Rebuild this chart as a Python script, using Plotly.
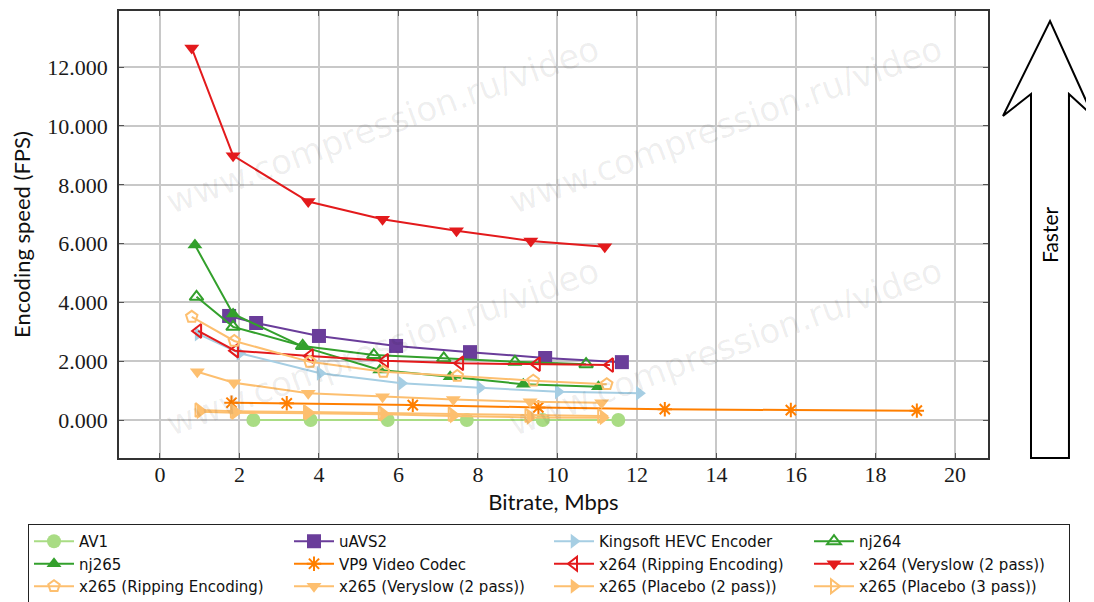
import plotly.graph_objects as go

# ---- data ----
av1_x = [2.35, 3.79, 5.73, 7.72, 9.63, 11.53]
av1_y = [0.00, 0.00, 0.00, 0.00, 0.00, 0.00]

uavs2_x = [1.74, 2.42, 4.00, 5.94, 7.80, 9.69, 11.62]
uavs2_y = [3.54, 3.30, 2.86, 2.52, 2.31, 2.11, 1.97]

kingsoft_x = [0.96, 2.01, 4.03, 6.08, 8.05, 10.02, 12.06]
kingsoft_y = [2.93, 2.27, 1.59, 1.25, 1.10, 0.96, 0.91]

nj264_x = [0.92, 1.84, 3.59, 5.38, 7.14, 8.93, 10.72]
nj264_y = [4.19, 3.17, 2.52, 2.21, 2.10, 1.98, 1.90]

nj265_x = [0.88, 1.84, 3.61, 5.53, 7.30, 9.14, 11.03]
nj265_y = [5.95, 3.61, 2.49, 1.70, 1.47, 1.22, 1.13]

vp9_x = [1.80, 3.19, 6.36, 9.52, 12.70, 15.87, 19.04]
vp9_y = [0.59, 0.57, 0.51, 0.43, 0.37, 0.34, 0.32]

x264rip_x = [0.96, 1.89, 3.77, 5.66, 7.55, 9.48, 11.32]
x264rip_y = [3.03, 2.36, 2.18, 2.02, 1.93, 1.90, 1.87]

x264vs_x = [0.80, 1.84, 3.73, 5.60, 7.46, 9.33, 11.19]
x264vs_y = [12.65, 8.99, 7.43, 6.83, 6.44, 6.09, 5.89]

x265rip_x = [0.80, 1.87, 3.77, 5.62, 7.48, 9.39, 11.24]
x265rip_y = [3.51, 2.69, 1.98, 1.64, 1.50, 1.34, 1.22]

x265vs_x = [0.94, 1.86, 3.73, 5.60, 7.38, 9.31, 11.11]
x265vs_y = [1.64, 1.27, 0.91, 0.79, 0.70, 0.62, 0.59]

x265p2_x = [1.01, 1.89, 3.73, 5.62, 7.38, 9.31, 11.15]
x265p2_y = [0.28, 0.25, 0.23, 0.20, 0.14, 0.09, 0.08]

x265p3_x = [0.97, 1.86, 3.70, 5.58, 7.34, 9.27, 11.10]
x265p3_y = [0.34, 0.30, 0.27, 0.24, 0.20, 0.16, 0.14]

x_ticks = [0, 2, 4, 6, 8, 10, 12, 14, 16, 18, 20]
y_ticks = [0, 2, 4, 6, 8, 10, 12]

# ---- styling ----
W, H = 1094, 602
OFF = 8  # page body margin offset
GREEN_L = "#a9dc84"
PURPLE = "#6a3d9a"
BLUE_L = "#a6cee3"
GREEN = "#33a02c"
ORANGE = "#ff7f00"
RED = "#e31a1c"
ORANGE_L = "#fdbf6f"

series = [
    ("AV1", av1_x, av1_y, GREEN_L, "circle", 14),
    ("uAVS2", uavs2_x, uavs2_y, PURPLE, "square", 14),
    ("Kingsoft HEVC Encoder", kingsoft_x, kingsoft_y, BLUE_L, "triangle-right", 13),
    ("nj264", nj264_x, nj264_y, GREEN, "triangle-up-open", 12),
    ("nj265", nj265_x, nj265_y, GREEN, "triangle-up", 13),
    ("VP9 Video Codec", vp9_x, vp9_y, ORANGE, "asterisk-open", 12),
    ("x264 (Ripping Encoding)", x264rip_x, x264rip_y, RED, "triangle-left-open", 12),
    ("x264 (Veryslow (2 pass))", x264vs_x, x264vs_y, RED, "triangle-down", 13),
    ("x265 (Ripping Encoding)", x265rip_x, x265rip_y, ORANGE_L, "pentagon-open", 12),
    ("x265 (Veryslow (2 pass))", x265vs_x, x265vs_y, ORANGE_L, "triangle-down", 13),
    ("x265 (Placebo (2 pass))", x265p2_x, x265p2_y, ORANGE_L, "triangle-right", 13),
    ("x265 (Placebo (3 pass))", x265p3_x, x265p3_y, ORANGE_L, "triangle-right-open", 12),
]

fig = go.Figure()
for name, xs, ys, col, sym, sz in series:
    fig.add_trace(go.Scatter(
        x=xs, y=ys, name=name, mode="lines+markers",
        line=dict(color=col, width=2),
        marker=dict(symbol=sym, size=sz, color=col,
                    line=dict(color=col, width=2 if "open" in sym else 0)),
    ))


def px2p(px, py):
    """page pixel -> paper coords (figure is drawn offset by body margin)"""
    return (px - OFF) / W, (H - (py - OFF)) / H


# watermark
for cx, cy in [(382, 125), (725, 125), (382, 347), (725, 347)]:
    ax, ay = px2p(cx, cy)
    fig.add_annotation(text="www.compression.ru/video", xref="paper", yref="paper",
                       x=ax, y=ay, xanchor="center", yanchor="middle",
                       showarrow=False, textangle=-20,
                       font=dict(family="DejaVu Sans", size=34, color="rgba(0,0,0,0.07)"))

# "Faster" arrow
pts = [(1031, 458), (1031, 94), (1003, 116), (1050, 21), (1093, 116), (1069, 94), (1069, 458)]
pp = [px2p(a, b) for a, b in pts]
path = "M " + " L ".join(f"{a:.4f},{b:.4f}" for a, b in pp) + " Z"
fig.add_shape(type="path", path=path, xref="paper", yref="paper",
              line=dict(color="black", width=2), fillcolor="white", layer="above")
fx, fy = px2p(1050, 235)
fig.add_annotation(text="Faster", xref="paper", yref="paper", x=fx, y=fy,
                   xanchor="center", yanchor="middle",
                   showarrow=False, textangle=-90,
                   font=dict(family="Lato", size=21, color="black"))

axis_common = dict(
    showgrid=True, gridcolor="#c8c8c8", gridwidth=1.5,
    showline=True, linecolor="#333333", linewidth=1.5, mirror="ticks",
    ticks="inside", ticklen=5, tickcolor="#555555",
    zeroline=False,
    tickfont=dict(family="Liberation Serif", size=22, color="#1a1a1a"),
)

x0, y0 = px2p(119, 458)
x1, y1 = px2p(988, 11)
lx, ly = px2p(28, 524)
fig.update_layout(
    width=W, height=H,
    margin=dict(l=0, r=0, t=0, b=0, autoexpand=False),
    paper_bgcolor="white", plot_bgcolor="white",
    xaxis=dict(range=[-1.03, 20.83], tickvals=x_ticks,
               domain=[x0, x1], ticklabelstandoff=-4,
               title=dict(text="Bitrate, Mbps", font=dict(family="Lato", size=22, color="#111111"), standoff=8),
               **axis_common),
    yaxis=dict(range=[-1.29, 13.91], tickvals=y_ticks, tickformat=".3f",
               domain=[y0, y1], ticklabelstandoff=5,
               title=dict(text="Encoding speed (FPS)", font=dict(family="Lato", size=22, color="#111111"), standoff=16),
               **axis_common),
    legend=dict(orientation="h", x=lx, xanchor="left", y=ly, yanchor="top",
                bgcolor="white", bordercolor="#222222", borderwidth=1,
                font=dict(family="DejaVu Sans", size=15, color="#111111"),
                itemwidth=40, entrywidth=205, tracegroupgap=0, traceorder="normal"),
    showlegend=True,
)

fig.write_html("out.html")
